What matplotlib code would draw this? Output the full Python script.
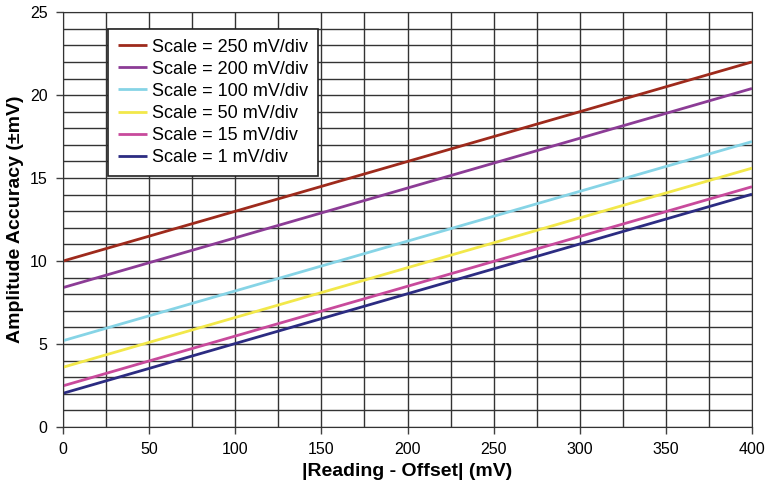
import numpy as np
import matplotlib
matplotlib.use('Agg')
import matplotlib.pyplot as plt

plt.rcParams['font.family'] = ['Liberation Sans', 'DejaVu Sans']

# reading offsets (mV) and accuracy at both ends
x_mv = [0, 400]
labels = ['Scale = 250 mV/div', 'Scale = 200 mV/div', 'Scale = 100 mV/div',
          'Scale = 50 mV/div', 'Scale = 15 mV/div', 'Scale = 1 mV/div']
acc_250 = [10.0, 22.0]
acc_200 = [8.4, 20.4]
acc_100 = [5.2, 17.2]
acc_50 = [3.6, 15.6]
acc_15 = [2.48, 14.48]
acc_1 = [2.03, 14.03]
colors = ['#9e2a1c', '#8c3c96', '#86d4e6', '#f2e84a', '#c84a9c', '#2c2c82']

fig = plt.figure(figsize=(7.74, 4.86), dpi=100)
ax = fig.add_axes([0.0814, 0.1214, 0.8902, 0.8536])

for ys, c, lab in zip([acc_250, acc_200, acc_100, acc_50, acc_15, acc_1], colors, labels):
    ax.plot(x_mv, ys, color=c, lw=2.0, label=lab, solid_capstyle='butt')

ax.set_xlim(0, 400)
ax.set_ylim(0, 25)
ax.set_xticks(np.arange(0, 401, 50))
ax.set_yticks(np.arange(0, 26, 5))
ax.set_xticks(np.arange(0, 401, 25), minor=True)
ax.set_yticks(np.arange(0, 26, 1), minor=True)
ax.tick_params(which='minor', length=0)
ax.tick_params(which='major', length=5, width=1, color='#404040', labelsize=11.5, pad=6)
ax.grid(True, which='both', color='#333333', lw=1.0)
ax.set_axisbelow(True)
for s in ax.spines.values():
    s.set_color('#333333')

ax.set_xlabel('|Reading - Offset| (mV)', fontsize=14, fontweight='bold')
ax.set_ylabel('Amplitude Accuracy (±mV)', fontsize=14, fontweight='bold')

leg = ax.legend(loc='upper left', bbox_to_anchor=(0.065, 0.96), fontsize=13,
                frameon=True, fancybox=False, handlelength=1.6, handletextpad=0.3,
                labelspacing=0.28, borderpad=0.55, borderaxespad=0)
leg.get_frame().set_edgecolor('#222222')
leg.get_frame().set_linewidth(1.2)
leg.get_frame().set_alpha(1)

fig.savefig('out.png', dpi=100)
